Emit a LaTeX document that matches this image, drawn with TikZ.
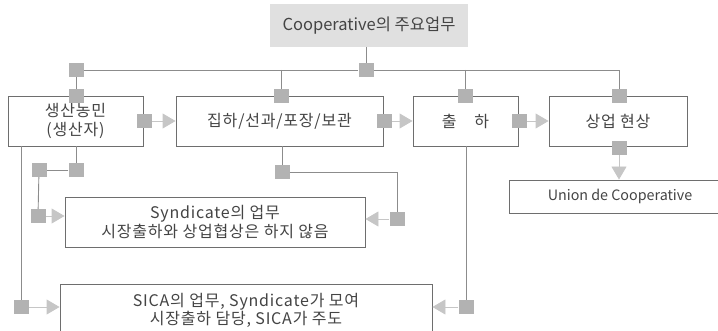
\documentclass[tikz,border=0pt]{standalone}
\usepackage{fontspec}
\setmainfont{Noto Sans CJK KR}
\newfontfamily\stagefont[LetterSpace=5]{Noto Sans CJK KR}
\usetikzlibrary{arrows.meta}
\definecolor{ink}{HTML}{444444}
\definecolor{frame}{HTML}{6E6E6E}
\definecolor{wire}{HTML}{8C8C8C}
\definecolor{marker}{HTML}{B2B2B2}
\definecolor{tipgray}{HTML}{C6C6C6}
\definecolor{headfill}{HTML}{E0E0E0}
\tikzset{
  stage/.style={draw=frame, line width=0.9pt, fill=white, text=ink, align=center,
    inner sep=0pt, font=\stagefont\fontsize{16}{18.5}\selectfont},
  marksq/.style={fill=marker, draw=none, minimum width=15pt, minimum height=14pt, inner sep=0pt},
  link/.style={draw=wire, line width=0.9pt},
  feed/.style={draw=tipgray, line width=0.9pt,
    -{Triangle[length=13pt,width=15pt,fill=tipgray]}},
}
\begin{document}
\begin{tikzpicture}[x=1pt,y=-1pt]
\useasboundingbox (0,0) rectangle (718,331);

% heading
\node[fill=headfill, text=ink, minimum width=198pt, minimum height=43pt, inner sep=0pt,
  font=\fontsize{16.5}{19}\selectfont] (head) at (369,25.5) {Cooperative의 주요업무};

% main stages
\node[stage, minimum width=135pt, minimum height=50pt] (farm) at (75.5,121) {생산농민\\(생산자)};
\node[stage, minimum width=207pt, minimum height=50pt] (pack) at (279.5,121) {집하/선과/포장/보관};
\node[stage, minimum width=105pt, minimum height=50pt] (ship) at (465.5,121) {출\hspace{1.1em}하};
\node[stage, minimum width=138pt, minimum height=50pt] (deal) at (618,121) {상업 현상};
\node[stage, minimum width=222pt, minimum height=33pt, font=\fontsize{14.3}{17}\selectfont] (union) at (620,196.5) {Union de Cooperative};
\node[stage, minimum width=300pt, minimum height=50pt] (synd) at (215,222)
  {Syndicate의 업무\\시장출하와 상업협상은 하지 않음};
\node[stage, minimum width=372pt, minimum height=53pt] (sica) at (246,310.5)
  {SICA의 업무, Syndicate가 모여\\시장출하 담당, SICA가 주도};

% square markers
\node[marksq] (mHead) at (366,70) {};
\node[marksq] (mLeft) at (76,70) {};
\node[marksq] (tFarm) at (76,96) {};
\node[marksq] (tPack) at (281,96) {};
\node[marksq] (tShip) at (465,96) {};
\node[marksq] (tDeal) at (619,96) {};
\node[marksq] (rFarm) at (144,121) {};
\node[marksq] (rPack) at (384,121) {};
\node[marksq] (rShip) at (519,121) {};
\node[marksq] (bDeal) at (619,148) {};
\node[marksq] (fA) at (76,170) {};
\node[marksq] (fB) at (39,170) {};
\node[marksq] (fC) at (38,216) {};
\node[marksq] (pA) at (282,172) {};
\node[marksq] (pB) at (397,219) {};
\node[marksq] (lS) at (21,307) {};
\node[marksq] (rS) at (466,307) {};

% junction points
\coordinate (jPack) at (281,70);
\coordinate (jShip) at (465,70);
\coordinate (jDeal) at (619,70);
\coordinate (jTurn) at (397,172);
\coordinate (jFarmL) at (21,146);
\coordinate (jShipB) at (466,146);

% distribution bus from the heading
\draw[link] (head.south -| mHead) -- (mHead);
\draw[link] (mLeft) -- (mHead);
\draw[link] (mHead) -- (jDeal) -- (tDeal);
\draw[link] (mLeft) -- (tFarm);
\draw[link] (jPack) -- (tPack);
\draw[link] (jShip) -- (tShip);

% flow between stages
\draw[feed] (rFarm) -- (pack.west |- rFarm);
\draw[feed] (rPack) -- (ship.west |- rPack);
\draw[feed] (rShip) -- (deal.west |- rShip);
\draw[feed] (bDeal) -- (union.north -| bDeal);

% producers to Syndicate
\draw[link] (farm.south -| fA) -- (fA);
\draw[link] (fA) -- (fB);
\draw[link] (fB) -- (fC);
\draw[feed] (fC) -- (synd.west |- fC);

% packing to Syndicate
\draw[link] (pack.south -| pA) -- (pA);
\draw[link] (pA) -- (jTurn) -- (pB);
\draw[feed] (pB) -- (synd.east |- pB);

% producers and shipping to SICA
\draw[link] (jFarmL) -- (lS);
\draw[feed] (lS) -- (sica.west |- lS);
\draw[link] (jShipB) -- (rS);
\draw[feed] (rS) -- (sica.east |- rS);
\end{tikzpicture}
\end{document}
